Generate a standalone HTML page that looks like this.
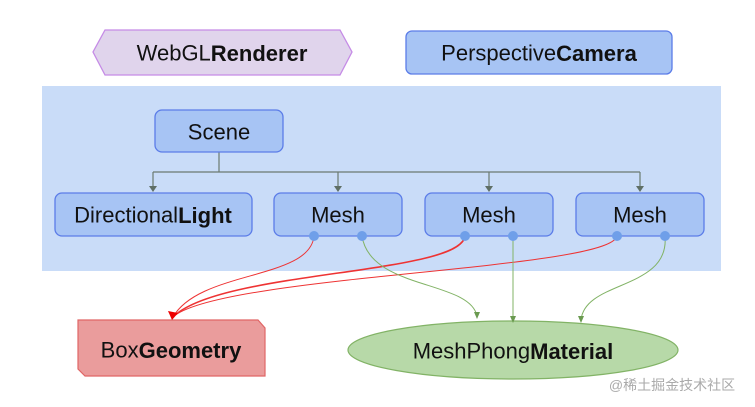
<!DOCTYPE html>
<html><head><style>body{margin:0;background:#fff}svg{display:block}text{font-family:"Liberation Sans","Noto Sans CJK SC",sans-serif;font-size:22px;text-anchor:middle;dominant-baseline:central;fill:#111}</style></head><body>
<svg width="755" height="407" viewBox="0 0 755 407" xmlns="http://www.w3.org/2000/svg">
<polygon points="105,30 340,30 352,52 340,75 105,75 93,52" fill="#e0d4ec" stroke="#c58be6" stroke-width="1.3"/>
<text x="222" y="53">WebGL<tspan font-weight="bold">Renderer</tspan></text>
<rect x="406" y="31" width="266" height="43" rx="6" fill="#a7c4f4" stroke="#5b7ce8" stroke-width="1.3"/>
<text x="539" y="53">Perspective<tspan font-weight="bold">Camera</tspan></text>
<rect x="42" y="86" width="679" height="185" fill="#c9dcf8"/>
<g stroke="#6b7a70" stroke-width="1.2" fill="none">
<path d="M219,152 V172"/><path d="M153,172 H640"/>
<path d="M153,172 V190"/><path d="M338,172 V190"/><path d="M489,172 V190"/><path d="M640,172 V190"/>
</g>
<g fill="#5f6f66"><path d="M149,186 h8 l-4,6z"/><path d="M334,186 h8 l-4,6z"/><path d="M485,186 h8 l-4,6z"/><path d="M636,186 h8 l-4,6z"/></g>
<g fill="#a7c4f4" stroke="#5b7ce8" stroke-width="1.3">
<rect x="155" y="110" width="128" height="42" rx="7"/>
<rect x="55" y="193" width="197" height="43" rx="7"/>
<rect x="274" y="193" width="128" height="43" rx="7"/>
<rect x="425" y="193" width="128" height="43" rx="7"/>
<rect x="576" y="193" width="128" height="43" rx="7"/>
</g>
<text x="219" y="132">Scene</text>
<text x="153" y="215">Directional<tspan font-weight="bold">Light</tspan></text>
<text x="338" y="215">Mesh</text><text x="489" y="215">Mesh</text><text x="640" y="215">Mesh</text>
<polygon points="78,320 258,320 265,328 265,376 85,376 78,369" fill="#ea9c9c" stroke="#e06666" stroke-width="1.2"/>
<text x="171" y="350">Box<tspan font-weight="bold">Geometry</tspan></text>
<ellipse cx="513" cy="350" rx="165" ry="29" fill="#b7d9a8" stroke="#82b366" stroke-width="1.2"/>
<text x="513" y="351">MeshPhong<tspan font-weight="bold">Material</tspan></text>
<g fill="none" stroke="#e33" stroke-width="1">
<path d="M314,236 C310,280 200,270 173,317"/>
<path d="M465,236 C460,275 220,270 173,317" stroke-width="1.6"/>
<path d="M617,236 C610,270 220,275 173,317"/>
</g>
<path d="M168,311 L178,313 L172,320z" fill="#e00"/>
<g fill="none" stroke="#82b366" stroke-width="1">
<path d="M362,236 C370,290 470,280 477,316"/>
<path d="M513,236 V320"/>
<path d="M665,236 C670,290 585,280 581,320"/>
</g>
<g fill="#6a9a50"><path d="M474,312 h6 l-3,7z"/><path d="M510,316 h6 l-3,7z"/><path d="M578,316 h6 l-3,7z"/></g>
<g fill="#6f9fe9"><circle cx="314" cy="236" r="5"/><circle cx="362" cy="236" r="5"/><circle cx="465" cy="236" r="5"/><circle cx="513" cy="236" r="5"/><circle cx="617" cy="236" r="5"/><circle cx="665" cy="236" r="5"/></g>
<text x="672" y="385" style="font-size:14px;fill:#aaa">@稀土掘金技术社区</text>
</svg>
</body></html>
